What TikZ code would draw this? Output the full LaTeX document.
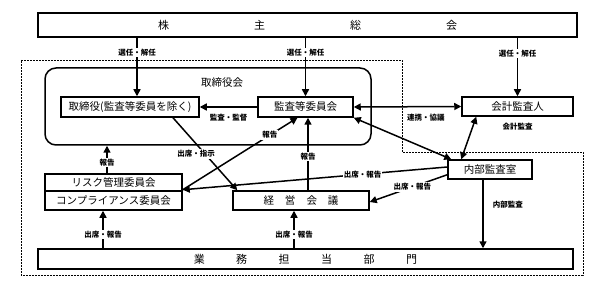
\documentclass[tikz,border=0pt]{standalone}
\usepackage{fontspec}
\newfontfamily\jp{Noto Sans CJK JP}
\usetikzlibrary{arrows.meta}
\begin{document}
\begin{tikzpicture}[x=1pt,y=-1pt,
  box/.style={draw,line width=1.5pt,inner sep=0pt,font=\jp\fontsize{10.5}{12}\selectfont},
  bigbox/.style={box,font=\jp\fontsize{11}{13}\selectfont},
  lbl/.style={fill=white,inner sep=1pt,font=\jp\bfseries\fontsize{7.5}{9}\selectfont},
  plbl/.style={inner sep=1pt,font=\jp\bfseries\fontsize{7.5}{9}\selectfont},
  arr/.style={line width=1.5pt,-{Triangle[length=7pt,width=7pt]}},
  darr/.style={line width=1.5pt,{Triangle[length=7pt,width=7pt]}-{Triangle[length=7pt,width=7pt]}}]
\useasboundingbox (0,0) rectangle (600,286);
% outer dashed region
\draw[line width=0.9pt,dash pattern=on 2pt off 1pt] (21,60) -- (402,60) -- (402,152) -- (583,152) -- (583,275) -- (21,275) -- cycle;
% board rounded box
\node[draw,line width=1.5pt,rounded corners=11pt,minimum width=326,minimum height=77,inner sep=0pt] (board) at (208,106.5) {};
\node[font=\jp\fontsize{10.5}{12}\selectfont,anchor=north] (boardlbl) at ([yshift=-7pt]board.north -| 222,0) {取締役会};
% boxes
\node[bigbox,minimum width=539,minimum height=24] (kabu) at (307.5,25) {株\hspace{85pt}主\hspace{85pt}総\hspace{85pt}会};
\node[box,minimum width=138,minimum height=20] (tori) at (130,107) {取締役(監査等委員を除く)};
\node[box,minimum width=95,minimum height=20] (audit) at (305.5,107) {監査等委員会};
\node[box,minimum width=111,minimum height=19] (kaikei) at (517.5,106.5) {会計監査人};
\node[box,minimum width=84,minimum height=19] (naibu) at (490,169.5) {内部監査室};
\node[box,minimum width=137,minimum height=17] (risk) at (113.5,182.5) {リスク管理委員会};
\node[box,minimum width=137,minimum height=19] (comp) at (113.5,200.5) {コンプライアンス委員会};
\node[box,minimum width=136,minimum height=19] (keiei) at (301,200.5) {経\hspace{11pt}営\hspace{11pt}会\hspace{11pt}議};
\node[bigbox,minimum width=535,minimum height=20] (gyomu) at (305.5,259) {業\hspace{31.5pt}務\hspace{31.5pt}担\hspace{31.5pt}当\hspace{31.5pt}部\hspace{31.5pt}門};
\node[plbl,anchor=north] (kaikeilbl) at ([yshift=-5pt]kaikei.south) {会計監査};
% shareholders to boxes
\draw[arr] ([xshift=7pt]tori.north |- kabu.south) -- node[lbl,pos=0.25] (l1) {選任・解任} ([xshift=7pt]tori.north);
\draw[arr] (audit.north |- kabu.south) -- node[lbl,pos=0.25] (l2) {選任・解任} (audit.north);
\draw[arr] (kaikei.north |- kabu.south) -- node[lbl,pos=0.27] (l3) {選任・解任} (kaikei.north);
% audit committee relations
\draw[arr] (audit.west) -- node[plbl,below=5pt] (l4) {監査・監督} (tori.east);
\draw[darr] (audit.east) -- node[plbl,pos=0.67,below=6pt] (l5) {連携・協議} (kaikei.west);
\draw[darr] (audit.south east) -- ([xshift=4pt]naibu.north west);
\draw[darr] ([xshift=15pt]kaikei.south west) -- ([xshift=14pt]naibu.north west);
% director -> management meeting
\draw[arr] ([xshift=43pt]tori.south) -- node[lbl,pos=0.5,xshift=-9pt] (l6) {出席・指示} ([xshift=5pt]keiei.north west);
% management meeting -> audit committee
\draw[arr] ([xshift=7pt]keiei.north) -- node[lbl,pos=0.46] (l7) {報告} ([xshift=7pt]keiei.north |- audit.south);
% risk -> audit committee
\draw[arr] ([yshift=2pt]risk.south east) -- node[lbl,pos=0.76] (l8) {報告} ([xshift=-8pt]audit.south);
% risk -> board
\draw[arr] ([xshift=-6.5pt]risk.north) -- node[lbl,pos=0.38] (l9) {報告} ([xshift=-6.5pt]risk.north |- board.south);
% internal audit -> risk
\draw[arr] ([yshift=2.5pt]naibu.west) -- node[lbl,pos=0.32] (l10) {出席・報告} ([yshift=2pt]risk.south east);
% internal audit -> management meeting
\draw[arr] ([yshift=5pt]naibu.south west) -- node[lbl,pos=0.45] (l11) {出席・報告} ([yshift=-1.5pt]keiei.east);
% internal audit -> business depts
\draw[arr] ([xshift=-7pt]naibu.south) -- node[plbl,pos=0.36,anchor=west,xshift=8pt] (l12) {内部監査} ([xshift=-7pt]naibu.south |- gyomu.north);
% business depts -> committees / meeting
\draw[arr] ([xshift=-10.5pt]comp.south |- gyomu.north) -- node[lbl,pos=0.36] (l13) {出席・報告} ([xshift=-10.5pt]comp.south);
\draw[arr] ([xshift=-7pt]keiei.south |- gyomu.north) -- node[lbl,pos=0.36] (l14) {出席・報告} ([xshift=-7pt]keiei.south);
\end{tikzpicture}
\end{document}
